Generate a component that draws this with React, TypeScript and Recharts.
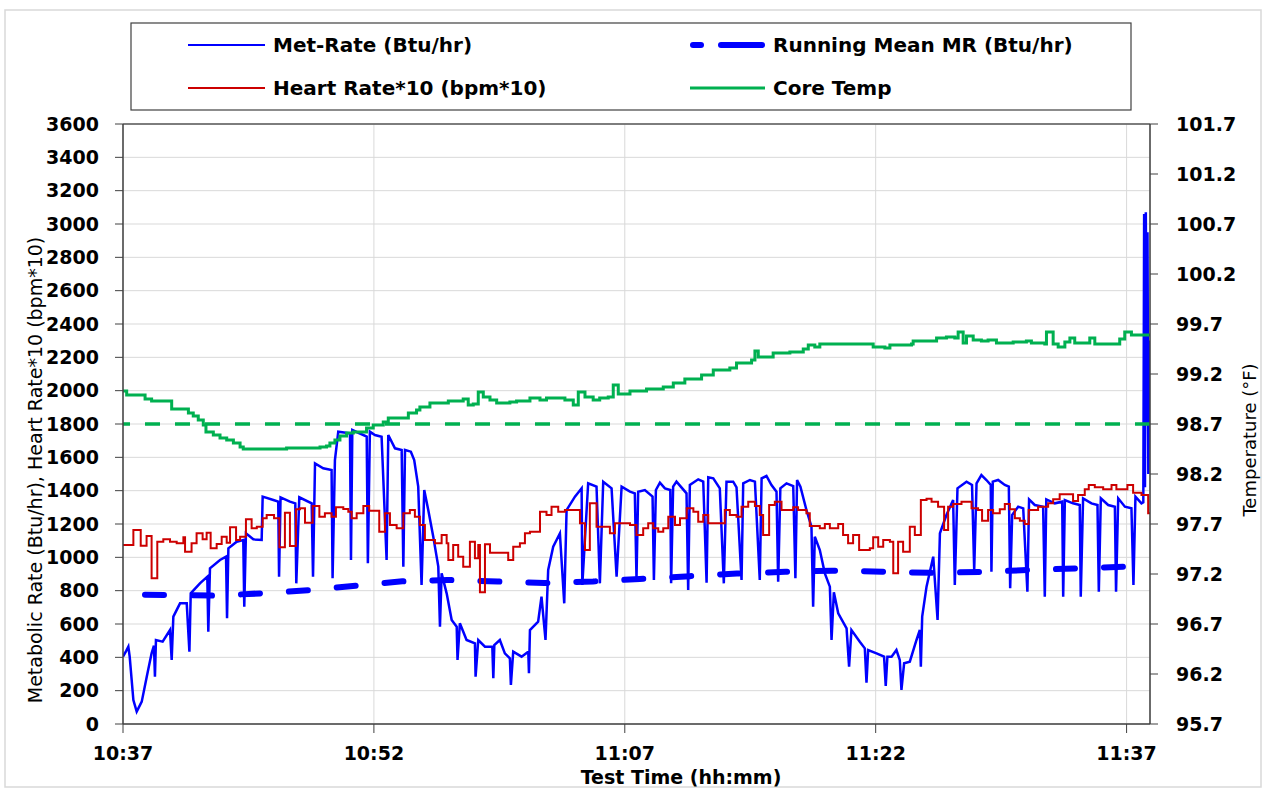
import { LineChart, Line, XAxis, YAxis, CartesianGrid, ReferenceLine } from "recharts";

// minutes since 10:37
const xTicks = [0, 15, 30, 45, 60];
const xTickLabels = ["10:37", "10:52", "11:07", "11:22", "11:37"];
const leftTicks = [0, 200, 400, 600, 800, 1000, 1200, 1400, 1600, 1800, 2000, 2200, 2400, 2600, 2800, 3000, 3200, 3400, 3600];
const rightTicks = [95.7, 96.2, 96.7, 97.2, 97.7, 98.2, 98.7, 99.2, 99.7, 100.2, 100.7, 101.2, 101.7];
const normalTemp = 98.7;

// [minute, Btu/hr]
const metRate: [number, number][] = [
  [0.0, 404], [0.2, 440], [0.32, 464], [0.4, 404], [0.62, 144], [0.82, 74], [1.0, 110], [1.12, 134],
  [1.42, 284], [1.71, 424], [1.85, 470], [1.91, 284], [1.97, 504], [2.37, 494], [2.81, 564], [2.91, 384],
  [3.01, 644], [3.41, 724], [3.81, 724], [3.97, 434], [4.05, 784], [4.6, 844], [5.04, 884], [5.1, 554],
  [5.2, 934], [5.8, 984], [6.16, 1004], [6.22, 634], [6.3, 1054], [6.8, 1094], [7.19, 1104], [7.25, 704],
  [7.35, 1144], [7.79, 1108], [8.29, 1104], [8.35, 1364], [8.99, 1344], [9.28, 1334], [9.33, 884], [9.42, 1360],
  [9.98, 1334], [10.3, 1324], [10.36, 844], [10.54, 1360], [11.28, 1324], [11.36, 884], [11.48, 1564], [11.97, 1534],
  [12.47, 1524], [12.53, 874], [12.67, 1584], [12.87, 1754], [13.57, 1744], [13.63, 984], [13.71, 1764], [14.57, 1724],
  [14.64, 964], [14.76, 1754], [15.06, 1734], [15.46, 1724], [15.76, 984], [15.86, 1734], [16.26, 1654], [16.66, 1644],
  [16.76, 944], [16.86, 1644], [17.21, 1634], [17.41, 1584], [17.65, 1424], [17.85, 834], [18.01, 1404], [18.25, 1284],
  [18.55, 1124], [18.85, 944], [18.95, 584], [19.05, 904], [19.35, 784], [19.65, 624], [19.95, 584], [20.0, 384],
  [20.14, 604], [20.54, 504], [21.04, 484], [21.08, 284], [21.24, 504], [21.64, 464], [22.08, 464], [22.14, 274],
  [22.2, 474], [22.53, 504], [22.83, 424], [23.13, 394], [23.19, 234], [23.33, 434], [23.83, 404], [24.23, 434],
  [24.27, 304], [24.33, 564], [24.82, 614], [25.02, 764], [25.26, 504], [25.42, 924], [25.72, 1064], [26.12, 1144],
  [26.38, 724], [26.52, 1284], [27.02, 1364], [27.42, 1414], [27.46, 834], [27.81, 1444], [28.31, 1424], [28.51, 844],
  [28.71, 1454], [29.21, 1414], [29.51, 884], [29.81, 1424], [30.31, 1394], [30.6, 1384], [30.7, 874], [30.8, 1394],
  [31.2, 1404], [31.66, 1364], [31.74, 864], [31.86, 1404], [32.1, 1448], [32.4, 1414], [32.72, 1404], [32.77, 844],
  [32.89, 1424], [33.09, 1454], [33.69, 1384], [33.79, 804], [33.89, 1434], [34.39, 1468], [34.69, 1454], [34.89, 848],
  [34.99, 1480], [35.29, 1474], [35.68, 1414], [35.92, 844], [36.08, 1454], [36.48, 1454], [36.68, 1420], [36.98, 864],
  [37.08, 1444], [37.48, 1464], [37.78, 1454], [38.07, 864], [38.18, 1474], [38.47, 1488], [38.77, 1434], [39.07, 1394],
  [39.17, 854], [39.3, 1414], [39.67, 1444], [40.07, 1428], [40.2, 874], [40.3, 1464], [40.5, 1424], [40.86, 1284],
  [41.16, 1184], [41.26, 704], [41.36, 1124], [41.66, 1044], [41.96, 904], [42.26, 824], [42.36, 504], [42.5, 790],
  [42.76, 664], [43.26, 574], [43.41, 344], [43.55, 564], [44.05, 494], [44.35, 454], [44.45, 248], [44.55, 444],
  [45.05, 424], [45.5, 404], [45.6, 228], [45.7, 404], [45.95, 404], [46.24, 444], [46.44, 384], [46.54, 204],
  [46.7, 364], [47.04, 374], [47.44, 504], [47.64, 564], [47.7, 344], [47.78, 644], [48.04, 824], [48.44, 1004],
  [48.7, 624], [48.84, 1144], [49.23, 1254], [49.63, 1344], [49.73, 834], [49.89, 1414], [50.43, 1454], [50.76, 1434],
  [50.89, 924], [51.03, 1444], [51.32, 1494], [51.62, 1464], [51.88, 1434], [51.92, 914], [52.0, 1454], [52.32, 1464],
  [52.72, 1434], [52.96, 1424], [53.04, 814], [53.16, 1254], [53.52, 1304], [53.82, 1294], [54.07, 794], [54.17, 1348],
  [54.51, 1314], [55.01, 1304], [55.11, 764], [55.2, 1348], [55.71, 1324], [56.15, 1334], [56.21, 764], [56.31, 1344],
  [56.8, 1324], [57.2, 1314], [57.26, 764], [57.4, 1354], [57.9, 1324], [58.26, 1314], [58.34, 794], [58.46, 1354],
  [58.9, 1314], [59.3, 1304], [59.37, 794], [59.5, 1354], [59.9, 1304], [60.29, 1294], [60.41, 834], [60.53, 1364],
  [60.89, 1324], [61.0, 1330], [61.05, 3060], [61.1, 1420], [61.15, 3070], [61.2, 1800], [61.25, 2950], [61.3, 1500],
  [61.35, 2300], [61.4, 2250],
];

const runningMean: [number, number][] = [
  [0, 776], [3, 774], [5.5, 770], [8.3, 784], [11.1, 803], [13.9, 829], [16.7, 856], [19.4, 864],
  [22.4, 855], [25.2, 846], [28.1, 855], [30.9, 870], [33.9, 887], [36.7, 903], [39.6, 913], [42.4, 920],
  [45.4, 914], [48.3, 907], [51.2, 912], [54.1, 924], [57, 934], [59.9, 944], [61.4, 947],
];

// heart rate * 10, step changes
const heartRate10: [number, number][] = [
  [0, 1074], [0.62, 1164], [1.06, 1070], [1.41, 1128], [1.71, 874], [2.05, 1094], [2.41, 1108], [2.81, 1094],
  [3.21, 1084], [3.61, 1120], [3.71, 1034], [4.1, 1084], [4.4, 1144], [4.76, 1108], [5.0, 1148], [5.24, 1054],
  [5.6, 1080], [5.9, 1124], [6.2, 1088], [6.4, 1180], [6.76, 1104], [7.0, 1124], [7.35, 1228], [7.69, 1174],
  [8.0, 1184], [8.35, 1234], [8.59, 1254], [9.03, 1234], [9.35, 1060], [9.68, 1268], [9.98, 1068], [10.34, 1288],
  [10.58, 1294], [10.88, 1208], [11.34, 1308], [11.74, 1244], [12.07, 1264], [12.47, 1244], [12.73, 1300], [13.17, 1290],
  [13.47, 1274], [13.67, 1234], [13.97, 1264], [14.37, 1308], [14.72, 1280], [15.32, 1154], [15.66, 1264], [15.96, 1194],
  [16.36, 1174], [16.76, 1264], [17.15, 1284], [17.45, 1244], [17.75, 1194], [18.05, 1104], [18.65, 1084], [19.05, 1134],
  [19.35, 1084], [19.45, 984], [19.74, 1074], [20.04, 1004], [20.34, 944], [20.74, 1094], [21.04, 994], [21.24, 1074],
  [21.34, 790], [21.64, 1078], [21.94, 1028], [23.03, 984], [23.33, 1064], [23.73, 1084], [24.03, 1144], [24.33, 1154],
  [24.93, 1274], [25.32, 1254], [25.62, 1304], [26.02, 1274], [26.42, 1284], [27.32, 1204], [27.62, 1044], [27.91, 1324],
  [28.31, 1184], [29.11, 1144], [29.41, 1204], [30.31, 1194], [30.7, 1134], [31.1, 1174], [31.4, 1204], [31.7, 1174],
  [32.0, 1154], [32.3, 1174], [32.6, 1244], [33.0, 1194], [33.3, 1234], [33.7, 1294], [34.1, 1274], [34.39, 1214],
  [34.69, 1254], [34.99, 1204], [35.98, 1284], [36.28, 1254], [36.68, 1244], [36.98, 1304], [37.38, 1334], [37.78, 1308],
  [38.07, 1254], [38.27, 1134], [38.63, 1314], [38.97, 1334], [39.37, 1284], [40.07, 1300], [40.36, 1284], [40.86, 1264],
  [41.06, 1188], [41.66, 1174], [41.96, 1200], [42.26, 1174], [42.76, 1200], [43.05, 1134], [43.35, 1084], [43.65, 1134],
  [44.01, 1044], [44.65, 1054], [44.85, 1120], [45.15, 1064], [45.45, 1104], [45.85, 1094], [46.05, 904], [46.34, 1094],
  [46.64, 1034], [47.04, 1184], [47.34, 1134], [47.7, 1344], [48.04, 1352], [48.34, 1334], [48.73, 1304], [49.09, 1164],
  [49.33, 1304], [49.63, 1320], [50.13, 1334], [50.73, 1294], [51.12, 1284], [51.36, 1220], [51.72, 1284], [52.02, 1264],
  [52.42, 1288], [52.72, 1320], [53.02, 1288], [53.32, 1234], [53.62, 1220], [53.91, 1200], [54.15, 1284], [54.71, 1304],
  [55.31, 1324], [55.61, 1348], [56.0, 1378], [56.8, 1338], [57.1, 1374], [57.5, 1408], [57.74, 1434], [58.1, 1420],
  [58.6, 1408], [59.1, 1434], [59.39, 1408], [60.05, 1434], [60.39, 1388], [60.89, 1374], [61.29, 1264], [61.4, 1264],
];

// core temperature, deg F, step changes
const coreTemp: [number, number][] = [
  [0, 99.03], [0.22, 98.99], [1.32, 98.95], [1.71, 98.93], [2.91, 98.85], [3.91, 98.81], [4.2, 98.78], [4.5, 98.74],
  [4.8, 98.69], [4.96, 98.62], [5.4, 98.59], [5.8, 98.56], [6.2, 98.54], [6.6, 98.51], [7.0, 98.47], [7.19, 98.45],
  [9.78, 98.46], [11.78, 98.47], [12.17, 98.48], [12.37, 98.51], [12.67, 98.54], [12.97, 98.58], [13.37, 98.61],
  [13.77, 98.62], [14.56, 98.66], [14.96, 98.69], [15.56, 98.72], [15.86, 98.76], [17.06, 98.81], [17.55, 98.84],
  [17.75, 98.87], [18.35, 98.91], [19.45, 98.93], [20.34, 98.95], [20.64, 98.89], [20.94, 98.9], [21.24, 99.02],
  [21.54, 98.97], [21.94, 98.94], [22.34, 98.91], [23.13, 98.92], [23.53, 98.93], [24.33, 98.96], [24.93, 98.94],
  [25.32, 98.96], [26.42, 98.94], [26.92, 98.89], [27.22, 99.02], [27.62, 98.97], [28.11, 98.94], [28.5, 98.96],
  [29.01, 98.97], [29.31, 99.09], [29.61, 99.0], [30.31, 99.03], [31.3, 99.05], [32.3, 99.07], [32.9, 99.11],
  [33.59, 99.15], [34.59, 99.19], [35.29, 99.24], [36.28, 99.26], [36.68, 99.31], [37.58, 99.34], [37.78, 99.43],
  [37.98, 99.37], [38.87, 99.41], [39.87, 99.42], [40.67, 99.45], [40.97, 99.49], [41.36, 99.47], [41.66, 99.5],
  [44.46, 99.5], [44.85, 99.47], [45.55, 99.46], [45.85, 99.49], [47.14, 99.5], [47.24, 99.53], [48.64, 99.56],
  [49.23, 99.57], [49.73, 99.56], [49.93, 99.62], [50.23, 99.51], [50.43, 99.58], [50.83, 99.54], [51.32, 99.53],
  [51.72, 99.54], [52.22, 99.51], [53.22, 99.52], [54.01, 99.53], [54.31, 99.51], [55.11, 99.5], [55.21, 99.62],
  [55.61, 99.5], [55.91, 99.47], [56.31, 99.52], [56.61, 99.56], [56.9, 99.51], [57.8, 99.56], [58.1, 99.5],
  [59.2, 99.5], [59.59, 99.55], [59.89, 99.62], [60.29, 99.59], [61.4, 99.59],
];

const toPoints = (rows: [number, number][]) => rows.map(([t, v]) => ({ t, v }));

// minor tick marks (axis decoration only)
const minorX = Array.from({ length: 21 }, (_, i) => i * 3);
const minorLeft = Array.from({ length: 181 }, (_, i) => i * 20);
const minorRight = Array.from({ length: 61 }, (_, i) => Math.round((95.7 + i * 0.1) * 10) / 10);

const FONT = "DejaVu Sans";
const tickFont = { fill: "#000", fontSize: 19, fontWeight: 700, fontFamily: FONT };
const axisCol = "#404040";

export default function App() {
  return (
    <div style={{ position: "absolute", left: 0, top: 0, width: 1265, height: 790, background: "#fff" }}>
      <LineChart width={1265} height={790} margin={{ top: 124, right: 25, bottom: 26, left: 43 }}>
        <CartesianGrid xAxisId="time" yAxisId="left" stroke="#d9d9d9" />
        <XAxis
          xAxisId="time"
          type="number"
          dataKey="t"
          domain={[0, 61.4]}
          allowDataOverflow
          ticks={xTicks}
          tickFormatter={(v: number) => xTickLabels[xTicks.indexOf(v)] ?? ""}
          tick={tickFont}
          tickSize={9}
          tickMargin={14}
          height={40}
          axisLine={{ stroke: axisCol, strokeWidth: 1.5 }}
          tickLine={{ stroke: axisCol }}
        />
        <XAxis
          xAxisId="minor"
          type="number"
          domain={[0, 61.4]}
          allowDataOverflow
          ticks={minorX}
          mirror
          tick={false}
          tickSize={7}
          axisLine={false}
          tickLine={{ stroke: axisCol }}
        />
        <YAxis
          yAxisId="left"
          domain={[0, 3600]}
          allowDataOverflow
          ticks={leftTicks}
          interval={0}
          tick={tickFont}
          tickSize={8}
          tickMargin={16}
          width={80}
          axisLine={{ stroke: axisCol, strokeWidth: 1.5 }}
          tickLine={{ stroke: axisCol }}
        />
        <YAxis
          yAxisId="leftMinor"
          domain={[0, 3600]}
          allowDataOverflow
          ticks={minorLeft}
          interval={0}
          mirror
          tick={false}
          tickSize={5}
          axisLine={false}
          tickLine={{ stroke: axisCol }}
        />
        <YAxis
          yAxisId="right"
          orientation="right"
          domain={[95.7, 101.7]}
          allowDataOverflow
          ticks={rightTicks}
          interval={0}
          tickFormatter={(v: number) => v.toFixed(1)}
          tick={tickFont}
          tickSize={8}
          tickMargin={18}
          width={90}
          axisLine={{ stroke: axisCol, strokeWidth: 1.5 }}
          tickLine={{ stroke: axisCol }}
        />
        <YAxis
          yAxisId="rightMinor"
          orientation="right"
          domain={[95.7, 101.7]}
          allowDataOverflow
          ticks={minorRight}
          interval={0}
          mirror
          tick={false}
          tickSize={6}
          axisLine={false}
          tickLine={{ stroke: axisCol }}
        />
        <ReferenceLine xAxisId="time" yAxisId="left" y={3600} stroke="#595959" strokeWidth={1.5} />

        <Line
          xAxisId="time"
          yAxisId="left"
          data={toPoints(metRate)}
          dataKey="v"
          type="linear"
          stroke="#0000ff"
          strokeWidth={2.5}
          dot={false}
          activeDot={false}
          isAnimationActive={false}
        />
        <Line
          xAxisId="time"
          yAxisId="left"
          data={toPoints(runningMean)}
          dataKey="v"
          type="linear"
          stroke="#0000ff"
          strokeWidth={6}
          strokeDasharray="19 29"
          strokeDashoffset={26}
          strokeLinecap="round"
          dot={false}
          activeDot={false}
          isAnimationActive={false}
        />
        <Line
          xAxisId="time"
          yAxisId="left"
          data={toPoints(heartRate10)}
          dataKey="v"
          type="stepAfter"
          stroke="#cc0000"
          strokeWidth={2}
          dot={false}
          activeDot={false}
          isAnimationActive={false}
        />
        <Line
          xAxisId="time"
          yAxisId="right"
          data={toPoints(coreTemp)}
          dataKey="v"
          type="stepAfter"
          stroke="#00b050"
          strokeWidth={3}
          dot={false}
          activeDot={false}
          isAnimationActive={false}
        />
        <ReferenceLine
          xAxisId="time"
          yAxisId="right"
          y={normalTemp}
          stroke="#00b050"
          strokeWidth={3.5}
          strokeDasharray="15 15"
        />
      </LineChart>

      <svg
        width={1265}
        height={790}
        style={{ position: "absolute", left: 0, top: 0, pointerEvents: "none" }}
      >
        <rect x={5} y={10} width={1256} height={777} fill="none" stroke="#d9d9d9" strokeWidth={1.5} />

        <rect x={131} y={23} width={1000} height={87} fill="#fff" stroke={axisCol} strokeWidth={1.2} />
        <g fontFamily={FONT} fontWeight={700} fontSize={20} fill="#000">
          <line x1={188} x2={265} y1={45} y2={45} stroke="#0000ff" strokeWidth={2} />
          <text x={273} y={45} dominantBaseline="central">Met-Rate (Btu/hr)</text>
          <line x1={693} x2={701} y1={45} y2={45} stroke="#0000ff" strokeWidth={6} strokeLinecap="round" />
          <line x1={721} x2={762} y1={45} y2={45} stroke="#0000ff" strokeWidth={6} strokeLinecap="round" />
          <text x={773} y={45} dominantBaseline="central">Running Mean MR (Btu/hr)</text>
          <line x1={188} x2={265} y1={88} y2={88} stroke="#cc0000" strokeWidth={2} />
          <text x={273} y={88} dominantBaseline="central">Heart Rate*10 (bpm*10)</text>
          <line x1={690} x2={765} y1={88} y2={88} stroke="#00b050" strokeWidth={3} />
          <text x={773} y={88} dominantBaseline="central">Core Temp</text>
        </g>

        <text
          transform="translate(35,470) rotate(-90)"
          textAnchor="middle"
          dominantBaseline="central"
          fontFamily={FONT}
          fontSize={19}
          fill="#000"
        >
          Metabolic Rate (Btu/hr), Heart Rate*10 (bpm*10)
        </text>
        <text
          transform="translate(1249,440) rotate(-90)"
          textAnchor="middle"
          dominantBaseline="central"
          fontFamily={FONT}
          fontSize={18}
          fill="#000"
        >
          Temperature (°F)
        </text>
        <text
          x={681}
          y={777}
          textAnchor="middle"
          dominantBaseline="central"
          fontFamily={FONT}
          fontWeight={700}
          fontSize={19}
          fill="#000"
        >
          Test Time (hh:mm)
        </text>
      </svg>
    </div>
  );
}
